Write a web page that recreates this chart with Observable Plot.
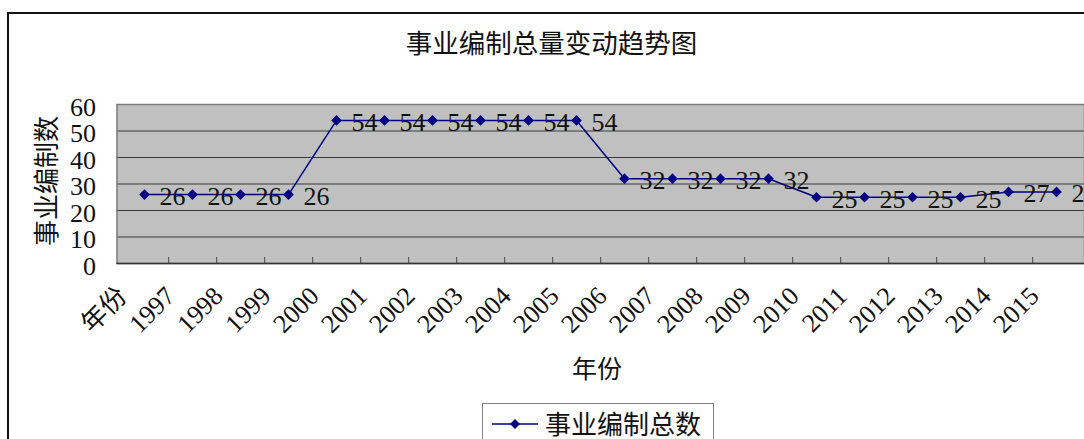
<!DOCTYPE html>
<html>
<head>
<meta charset="utf-8">
<script src="https://cdn.jsdelivr.net/npm/d3@7"></script>
<script src="https://cdn.jsdelivr.net/npm/@observablehq/plot@0.6"></script>
<style>
  body { margin: 0; background: #fff; }
  #wrap { position: relative; width: 1084px; height: 439px; overflow: hidden; background: #fff;
          font-family: "Liberation Serif", "Noto Sans CJK SC", serif; }
  #frame { position: absolute; left: 7px; top: 12px; width: 1300px; height: 700px; border: 2px solid #111; }
  #title { position: absolute; left: 0; width: 1103px; top: 25px; text-align: center; font-size: 26.5px;
           line-height: 34px; font-family: "Noto Sans CJK SC", sans-serif; color: #111; }
  #ytitle { position: absolute; left: 45px; top: 181px; transform: translate(-50%, -50%) rotate(-90deg);
            font-size: 26px; line-height: 30px; white-space: nowrap; font-family: "Noto Sans CJK SC", sans-serif; color: #111; }
  #xtitle { position: absolute; left: 597px; top: 367px; transform: translate(-50%, -50%);
            font-size: 25px; line-height: 30px; white-space: nowrap; font-family: "Noto Sans CJK SC", sans-serif; color: #111; }
  #legend { position: absolute; left: 482px; top: 403px; width: 230px; height: 60px; border: 1px solid #808080;
            background: #fff; }
  #legend svg { position: absolute; left: 8px; top: 8px; }
  #legend span { position: absolute; left: 62px; top: 5px; font-size: 26px; line-height: 28px; white-space: nowrap;
                 font-family: "Noto Sans CJK SC", sans-serif; color: #111; }
  #chart { position: absolute; left: 0; top: 0; }
</style>
</head>
<body>
<div id="wrap">
  <div id="frame"></div>
  <div id="chart"></div>
  <div id="title"></div>
  <div id="ytitle"></div>
  <div id="xtitle"></div>
  <div id="legend"></div>
</div>
<script>
const titleText = "事业编制总量变动趋势图";
const yTitle = "事业编制数";
const xTitle = "年份";
const seriesName = "事业编制总数";
const categories = ["年份", "1997", "1998", "1999", "2000", "2001", "2002", "2003", "2004", "2005",
                    "2006", "2007", "2008", "2009", "2010", "2011", "2012", "2013", "2014", "2015"];
const values = [26, 26, 26, 26, 54, 54, 54, 54, 54, 54, 32, 32, 32, 32, 25, 25, 25, 25, 27, 27];
const yTicks = [0, 10, 20, 30, 40, 50, 60];

const data = categories.map((c, i) => ({c, v: values[i]}));
const navy = "#000080";
const W = 1084, H = 439, mL = 116.5, mR = 0, mT = 104, mB = 176;
const step = (W - mL - mR) / categories.length;

document.getElementById("title").textContent = titleText;
document.getElementById("ytitle").textContent = yTitle;
document.getElementById("xtitle").textContent = xTitle;

const chart = Plot.plot({
  width: W, height: H,
  marginLeft: mL, marginRight: mR, marginTop: mT, marginBottom: mB,
  style: {background: "transparent", overflow: "visible", fontFamily: "'Liberation Serif', 'Noto Sans CJK SC', serif", fontSize: "26px", color: "#111"},
  x: {type: "point", domain: categories, padding: 0.5, axis: null},
  y: {domain: [0, 60], axis: null},
  marks: [
    Plot.frame({fill: "#c0c0c0", stroke: "none"}),
    Plot.gridY(yTicks, {stroke: "#3a3a3a", strokeOpacity: 1, strokeWidth: 1}),
    Plot.frame({stroke: "#7a7a7a", strokeWidth: 1.5}),
    Plot.ruleY([0], {stroke: "#333", strokeWidth: 1.5}),
    Plot.ruleX(categories.slice(0, -1), {x: d => d, dx: step / 2, y1: () => 0, y2: () => 0, insetTop: -6, stroke: "#444"}),
    Plot.line(data, {x: "c", y: "v", stroke: navy, strokeWidth: 1.5}),
    Plot.dot(data, {x: "c", y: "v", symbol: "diamond2", r: 4.8, fill: navy, stroke: "none"}),
    Plot.text(data, {x: "c", y: "v", text: d => String(d.v), textAnchor: "start", dx: 15, dy: 2, fontSize: 26, fill: "#111"}),
    Plot.text(yTicks, {y: d => d, text: d => String(d), frameAnchor: "left", textAnchor: "end", dx: -21, dy: 3, fontSize: 26, fill: "#111"}),
    Plot.text(categories, {x: d => d, text: d => d, frameAnchor: "bottom", rotate: -45, textAnchor: "end", lineAnchor: "bottom", dx: -16, dy: 34, fontSize: 26, fill: "#111"})
  ]
});
document.getElementById("chart").appendChild(chart);

// legend
const lg = document.getElementById("legend");
const ns = "http://www.w3.org/2000/svg";
const sym = document.createElementNS(ns, "svg");
sym.setAttribute("width", 48); sym.setAttribute("height", 24);
const ln = document.createElementNS(ns, "line");
ln.setAttribute("x1", 1); ln.setAttribute("x2", 47); ln.setAttribute("y1", 12); ln.setAttribute("y2", 12);
ln.setAttribute("stroke", navy); ln.setAttribute("stroke-width", 1.5);
const dm = document.createElementNS(ns, "path");
dm.setAttribute("d", "M24,7L29,12L24,17L19,12Z"); dm.setAttribute("fill", navy);
sym.appendChild(ln); sym.appendChild(dm);
lg.appendChild(sym);
const sp = document.createElement("span"); sp.textContent = seriesName; lg.appendChild(sp);
</script>
</body>
</html>
